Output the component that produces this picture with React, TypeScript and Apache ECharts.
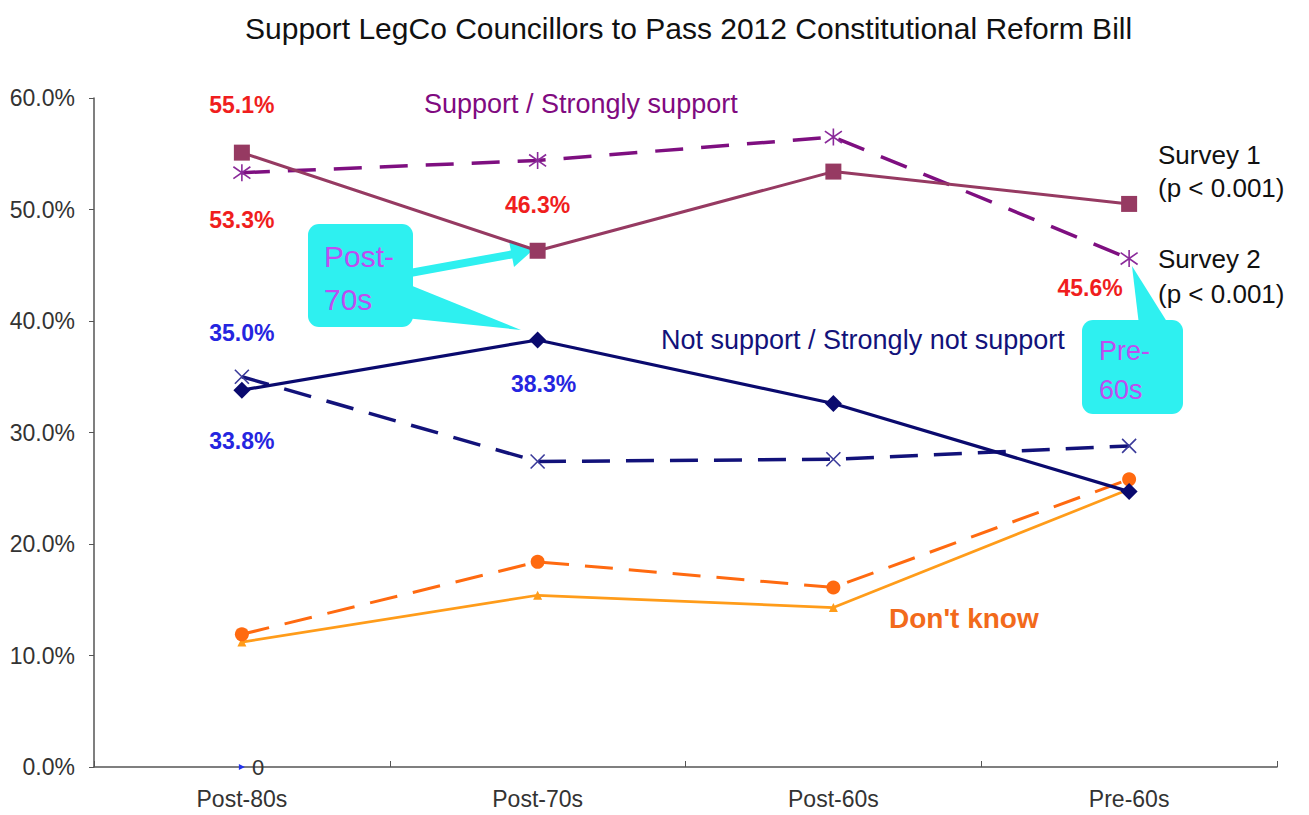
import React, { useEffect, useRef } from "react";
import * as echarts from "echarts";

const categories = ["Post-80s", "Post-70s", "Post-60s", "Pre-60s"];
const supportS1 = [55.1, 46.3, 53.4, 50.5];
const supportS2 = [53.3, 54.4, 56.5, 45.6];
const notSupportS1 = [33.8, 38.3, 32.6, 24.7];
const notSupportS2 = [35.0, 27.4, 27.6, 28.8];
const dontKnowS1 = [11.2, 15.4, 14.3, 24.9];
const dontKnowS2 = [11.9, 18.4, 16.1, 25.8];
const strayZero = [0, null, null, null];
const yTicks = { min: 0, max: 60, interval: 10 };

const FONT = "'Liberation Sans', Arial, sans-serif";
const ASTERISK = "path://M5,0 L5,10 M1.2,1.5 L8.8,8.5 M8.8,1.5 L1.2,8.5";
const CROSS = "path://M0,0 L10,10 M10,0 L0,10";

type LabelSpec = { position: any; distance?: number; offset?: number[]; color: string };
const redLbl = "#F01E1E";
const blueLbl = "#2525E0";

function withLabels(values: (number | null)[], specs: Record<number, LabelSpec>) {
  return values.map((v, i) => {
    const s = specs[i];
    if (!s || v == null) return v;
    return {
      value: v,
      label: {
        show: true,
        position: s.position,
        distance: s.distance ?? 5,
        offset: s.offset ?? [0, 0],
        formatter: (p: any) => Number(p.value).toFixed(1) + "%",
        color: s.color,
        fontSize: 23,
        fontWeight: "bold",
        fontFamily: FONT,
      },
    };
  });
}

function txt(x: number, y: number, text: string, fill: string, font: string) {
  return {
    type: "text",
    x,
    y,
    style: { text, fill, font, textVerticalAlign: "middle", textAlign: "left" },
    z: 6,
  };
}

export default function App() {
  const ref = useRef<HTMLDivElement>(null);
  useEffect(() => {
    if (!ref.current) return;
    const chart = echarts.init(ref.current, undefined, { renderer: "svg" });
    const cyan = "#2EF0F0";
    const calloutText = "#C04CF0";
    const option: any = {
      animation: false,
      backgroundColor: "#fff",
      grid: { left: 94, right: 32, top: 98, bottom: 48, containLabel: false },
      xAxis: {
        type: "category",
        data: categories,
        boundaryGap: true,
        axisLine: { lineStyle: { color: "#555", width: 1.5 } },
        axisTick: { show: true, inside: true, length: 6, lineStyle: { color: "#555" } },
        axisLabel: { fontFamily: FONT, fontSize: 23, color: "#333", margin: 20 },
        splitLine: { show: false },
      },
      yAxis: {
        type: "value",
        min: yTicks.min,
        max: yTicks.max,
        interval: yTicks.interval,
        axisLine: { show: true, lineStyle: { color: "#555", width: 1.5 } },
        axisTick: { show: true, length: 5, lineStyle: { color: "#555" } },
        axisLabel: {
          fontFamily: FONT,
          fontSize: 23,
          color: "#333",
          margin: 19,
          formatter: (v: number) => v.toFixed(1) + "%",
        },
        splitLine: { show: false },
      },
      series: [
        {
          name: "Don't know S1",
          type: "line",
          data: dontKnowS1,
          symbol: "triangle",
          symbolSize: 9,
          itemStyle: { color: "#FF9C1A" },
          lineStyle: { color: "#FF9C1A", width: 2.7 },
          z: 3,
        },
        {
          name: "Don't know S2",
          type: "line",
          data: dontKnowS2,
          symbol: "circle",
          symbolSize: 14,
          itemStyle: { color: "#FF6A10" },
          lineStyle: { color: "#FF6A10", width: 3, type: [28, 16] },
          z: 3,
        },
        {
          name: "Not support S2",
          type: "line",
          data: withLabels(notSupportS2, {
            0: { position: "top", distance: 24, color: blueLbl },
          }),
          symbol: CROSS,
          symbolSize: 14,
          itemStyle: { color: "transparent", borderColor: "#3A3A9A", borderWidth: 1.6 },
          lineStyle: { color: "#12127A", width: 3.5, type: [28, 16] },
          z: 4,
        },
        {
          name: "Not support S1",
          type: "line",
          data: withLabels(notSupportS1, {
            0: { position: "bottom", distance: 31, color: blueLbl },
            1: { position: "bottom", distance: 24, offset: [6, 0], color: blueLbl },
          }),
          symbol: "diamond",
          symbolSize: 17,
          itemStyle: { color: "#0A0A6E" },
          lineStyle: { color: "#0A0A6E", width: 3.2 },
          z: 5,
        },
        {
          name: "Support S2",
          type: "line",
          data: withLabels(supportS2, {
            0: { position: "bottom", distance: 26, color: redLbl },
            3: { position: "bottom", distance: 9, offset: [-39, 0], color: redLbl },
          }),
          symbol: ASTERISK,
          symbolSize: 17,
          itemStyle: { color: "transparent", borderColor: "#8A2A9A", borderWidth: 1.6 },
          lineStyle: { color: "#7E0F80", width: 3.5, type: [28, 18] },
          z: 4,
        },
        {
          name: "Support S1",
          type: "line",
          data: withLabels(supportS1, {
            0: { position: "top", distance: 28, color: redLbl },
            1: { position: "top", distance: 26, color: redLbl },
          }),
          symbol: "rect",
          symbolSize: 16,
          itemStyle: { color: "#963A62" },
          lineStyle: { color: "#963A62", width: 3 },
          z: 5,
        },
        {
          name: "zero",
          type: "line",
          data: strayZero,
          symbol: "triangle",
          symbolRotate: -90,
          symbolSize: 6,
          itemStyle: { color: "#2233EE" },
          lineStyle: { width: 0 },
          label: {
            show: true,
            position: "right",
            distance: 7,
            formatter: "0",
            fontFamily: FONT,
            fontSize: 22,
            color: "#333",
          },
          z: 6,
        },
      ],
      graphic: [
        txt(245, 28, "Support LegCo Councillors to Pass 2012 Constitutional Reform Bill", "#111", `30px ${FONT}`),
        // Post-70s callout: arrow + wedge + box
        {
          type: "line",
          shape: { x1: 410, y1: 273, x2: 514, y2: 254 },
          style: { stroke: cyan, lineWidth: 8 },
          z: 1,
        },
        {
          type: "polygon",
          shape: { points: [[533, 250], [509, 241], [514, 267]] },
          style: { fill: cyan },
          z: 1,
        },
        {
          type: "polygon",
          shape: { points: [[405, 283], [405, 318], [521, 330]] },
          style: { fill: cyan },
          z: 1,
        },
        {
          type: "rect",
          shape: { x: 308, y: 224, width: 105, height: 103, r: 11 },
          style: { fill: cyan },
          z: 1,
        },
        txt(324, 256, "Post-", calloutText, `30px ${FONT}`),
        txt(324, 299, "70s", calloutText, `30px ${FONT}`),
        // Pre-60s callout
        {
          type: "polygon",
          shape: { points: [[1132, 266], [1139, 325], [1169, 325]] },
          style: { fill: cyan },
          z: 1,
        },
        {
          type: "rect",
          shape: { x: 1082, y: 320, width: 101, height: 94, r: 11 },
          style: { fill: cyan },
          z: 1,
        },
        txt(1099, 351, "Pre-", calloutText, `27px ${FONT}`),
        txt(1099, 390, "60s", calloutText, `27px ${FONT}`),
        // Series annotations
        txt(424, 104, "Support / Strongly support", "#800A80", `27px ${FONT}`),
        txt(661, 340, "Not support / Strongly not support", "#12127A", `27px ${FONT}`),
        txt(889, 618, "Don't know", "#F26A1B", `bold 28px ${FONT}`),
        txt(1158, 155, "Survey 1", "#111", `26px ${FONT}`),
        txt(1158, 188, "(p < 0.001)", "#111", `26px ${FONT}`),
        txt(1158, 259, "Survey 2", "#111", `26px ${FONT}`),
        txt(1158, 294, "(p < 0.001)", "#111", `26px ${FONT}`),
      ],
    };
    chart.setOption(option);
    return () => chart.dispose();
  }, []);
  return (
    <div
      ref={ref}
      style={{ position: "fixed", left: 0, top: 0, width: 1309, height: 815, background: "#fff" }}
    />
  );
}
